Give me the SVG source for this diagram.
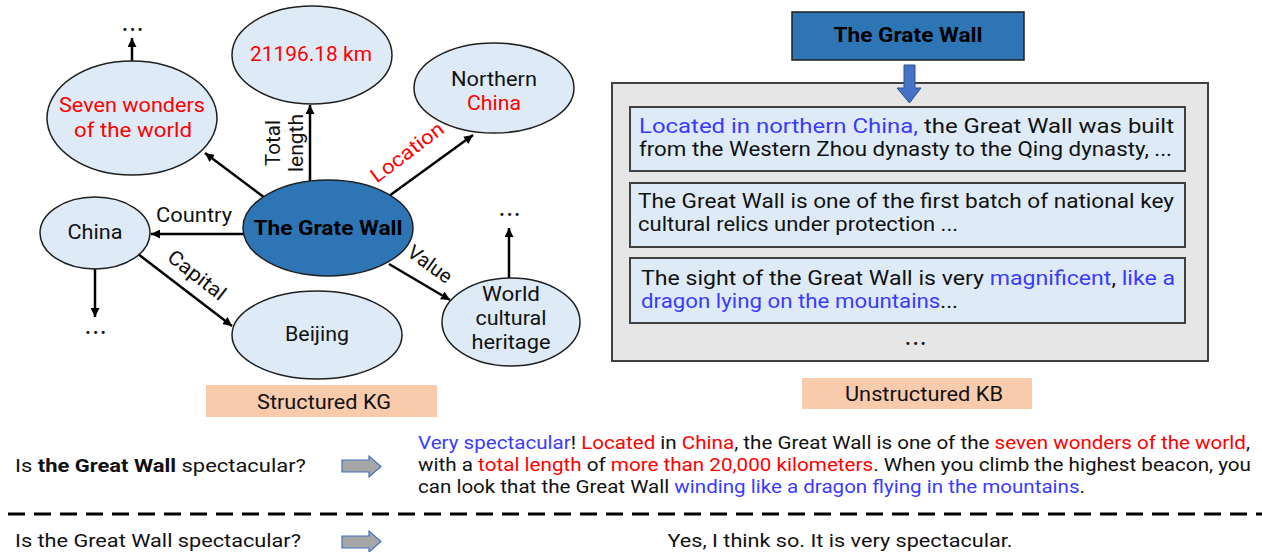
<svg xmlns="http://www.w3.org/2000/svg" width="1262" height="552" viewBox="0 0 1262 552">
<defs>
<marker id="ah" viewBox="0 0 10 10" refX="10" refY="5" markerWidth="9" markerHeight="9" markerUnits="userSpaceOnUse" orient="auto">
<path d="M0,0 L10,5 L0,10 z" fill="#000"/>
</marker>
<style>
text{font-family:Roboto,"Liberation Sans",sans-serif;fill:#111;}
.node{fill:#DEEBF7;stroke:#1f1f1f;stroke-width:1.5;}
.hub{fill:#2E75B6;stroke:#1f1f1f;stroke-width:1.5;}
.lbl{font-size:20px;text-anchor:middle;}
.red{fill:#FF0000;}
.blue{fill:#3B3BFF;}
.edge{stroke:#000;stroke-width:2.5;fill:none;marker-end:url(#ah);}
.dots{font-size:13px;font-weight:bold;text-anchor:middle;letter-spacing:3px;}
.tag{fill:#F8CBAD;}
.tbox{fill:#DEEBF7;stroke:#404040;stroke-width:2;}
.kb{font-size:19.5px;}
.ans{font-size:18px;}
.q{font-size:19px;}
.garrow{fill:#A6A6A6;stroke:#4472C4;stroke-width:1.2;}
</style>
</defs>

<g id="connectors">
<line class="edge" x1="265" y1="198" x2="205" y2="153"/>
<line class="edge" x1="310" y1="181" x2="310" y2="105"/>
<line class="edge" x1="389" y1="196" x2="473" y2="135"/>
<line class="edge" x1="244" y1="234" x2="151" y2="234"/>
<line class="edge" x1="138" y1="254" x2="232" y2="326"/>
<line class="edge" x1="389" y1="264" x2="450" y2="300"/>
<line class="edge" x1="132" y1="61" x2="132" y2="38"/>
<line class="edge" x1="95" y1="269" x2="95" y2="317"/>
<line class="edge" x1="509" y1="278" x2="509" y2="228"/>
<text class="lbl" transform="translate(280,143) rotate(-90)" textLength="46" lengthAdjust="spacingAndGlyphs">Total</text>
<text class="lbl" transform="translate(303,143) rotate(-90)" textLength="58" lengthAdjust="spacingAndGlyphs">length</text>
<text class="lbl red" transform="translate(407,152) rotate(-37)" y="7" font-size="21" textLength="86" lengthAdjust="spacingAndGlyphs">Location</text>
<text class="lbl" x="194" y="222" textLength="76" lengthAdjust="spacingAndGlyphs">Country</text>
<text class="lbl" transform="translate(197,275) rotate(38)" y="7" textLength="68" lengthAdjust="spacingAndGlyphs">Capital</text>
<text class="lbl" transform="translate(430,264) rotate(36)" y="7" textLength="50" lengthAdjust="spacingAndGlyphs">Value</text>
</g>

<g id="n-hub">
<ellipse class="hub" cx="328" cy="228" rx="85" ry="48"/>
<text class="lbl" x="328" y="235" font-weight="bold" font-size="21" style="fill:#000" textLength="149" lengthAdjust="spacingAndGlyphs">The Grate Wall</text>
</g>
<g id="n-seven">
<ellipse class="node" cx="132" cy="118" rx="85" ry="57"/>
<text class="lbl red" x="132" y="112" font-size="21" textLength="146" lengthAdjust="spacingAndGlyphs">Seven wonders</text>
<text class="lbl red" x="133" y="137" font-size="21" textLength="118" lengthAdjust="spacingAndGlyphs">of the world</text>
</g>
<g id="n-length">
<ellipse class="node" cx="312" cy="55" rx="80" ry="49"/>
<text class="lbl red" x="311" y="61" textLength="122" lengthAdjust="spacingAndGlyphs">21196.18 km</text>
</g>
<g id="n-northern">
<ellipse class="node" cx="494" cy="88" rx="80" ry="45"/>
<text class="lbl" x="494" y="86" textLength="86" lengthAdjust="spacingAndGlyphs">Northern</text>
<text class="lbl red" x="494" y="110" textLength="54" lengthAdjust="spacingAndGlyphs">China</text>
</g>
<g id="n-china">
<ellipse class="node" cx="95" cy="233" rx="55" ry="36"/>
<text class="lbl" x="95" y="239" textLength="55" lengthAdjust="spacingAndGlyphs">China</text>
</g>
<g id="n-beijing">
<ellipse class="node" cx="317" cy="335" rx="85" ry="44"/>
<text class="lbl" x="317" y="341" textLength="64" lengthAdjust="spacingAndGlyphs">Beijing</text>
</g>
<g id="n-heritage">
<ellipse class="node" cx="511" cy="322" rx="69" ry="44"/>
<text class="lbl" x="511" y="301" textLength="58" lengthAdjust="spacingAndGlyphs">World</text>
<text class="lbl" x="511" y="325" textLength="71" lengthAdjust="spacingAndGlyphs">cultural</text>
<text class="lbl" x="511" y="349" textLength="79" lengthAdjust="spacingAndGlyphs">heritage</text>
</g>
<g id="n-dots">
<text class="dots" x="134" y="34">•••</text>
<text class="dots" x="97" y="337">•••</text>
<text class="dots" x="511" y="219">•••</text>
</g>
<g id="n-kg-label">
<rect class="tag" x="206" y="385" width="231" height="32"/>
<text class="lbl" x="324" y="409" textLength="134" lengthAdjust="spacingAndGlyphs">Structured KG</text>
</g>

<g id="n-title">
<rect class="hub" x="792" y="12" width="232" height="48"/>
<text class="lbl" x="908" y="42" font-weight="bold" font-size="21" style="fill:#000" textLength="149" lengthAdjust="spacingAndGlyphs">The Grate Wall</text>
</g>
<g id="n-kb">
<rect x="612" y="83" width="596" height="278" fill="#E7E6E6" stroke="#404040" stroke-width="2"/>
<polygon points="904,65 915,65 915,88 921,88 909.5,103 897,88 904,88" fill="#4472C4" stroke="#2F528F" stroke-width="1"/>
<rect class="tbox" x="630" y="107" width="555" height="64"/>
<text class="kb" x="639" y="133" textLength="535" lengthAdjust="spacingAndGlyphs"><tspan class="blue">Located in northern China,</tspan> the Great Wall was built</text>
<text class="kb" x="639" y="156" textLength="533" lengthAdjust="spacingAndGlyphs">from the Western Zhou dynasty to the Qing dynasty, ...</text>
<rect class="tbox" x="630" y="183" width="555" height="64"/>
<text class="kb" x="638" y="208" textLength="536" lengthAdjust="spacingAndGlyphs">The Great Wall is one of the first batch of national key</text>
<text class="kb" x="638" y="231" textLength="320" lengthAdjust="spacingAndGlyphs">cultural relics under protection ...</text>
<rect class="tbox" x="630" y="258" width="555" height="65"/>
<text class="kb" x="641" y="285" textLength="534" lengthAdjust="spacingAndGlyphs">The sight of the Great Wall is very <tspan class="blue">magnificent</tspan>, <tspan class="blue">like a</tspan></text>
<text class="kb" x="641" y="308" textLength="317" lengthAdjust="spacingAndGlyphs"><tspan class="blue">dragon lying on the mountains</tspan>...</text>
<text class="dots" x="917" y="348">•••</text>
</g>
<g id="n-kb-label">
<rect class="tag" x="802" y="378" width="230" height="31"/>
<text class="lbl" x="924" y="401" textLength="158" lengthAdjust="spacingAndGlyphs">Unstructured KB</text>
</g>

<g id="n-qa1">
<text class="q" x="15" y="472" textLength="291" lengthAdjust="spacingAndGlyphs">Is <tspan font-weight="bold">the Great Wall</tspan> spectacular?</text>
<polygon class="garrow" points="342,460 369,460 369,456 381,466.5 369,477 369,472 342,472"/>
<text class="ans" x="418" y="449" textLength="832" lengthAdjust="spacingAndGlyphs"><tspan class="blue">Very spectacular</tspan>! <tspan class="red">Located</tspan> in <tspan class="red">China</tspan>, the Great Wall is one of the <tspan class="red">seven wonders of the world</tspan>,</text>
<text class="ans" x="418" y="471" textLength="833" lengthAdjust="spacingAndGlyphs">with a <tspan class="red">total length</tspan> of <tspan class="red">more than 20,000 kilometers</tspan>. When you climb the highest beacon, you</text>
<text class="ans" x="418" y="493" textLength="667" lengthAdjust="spacingAndGlyphs">can look that the Great Wall <tspan class="blue">winding like a dragon flying in the mountains</tspan>.</text>
</g>
<line x1="8" y1="514" x2="1262" y2="514" stroke="#000" stroke-width="3" stroke-dasharray="17 9"/>
<g id="n-qa2">
<text class="q" x="15" y="547" textLength="286" lengthAdjust="spacingAndGlyphs">Is the Great Wall spectacular?</text>
<polygon class="garrow" points="342,536 369,536 369,531 381,541.5 369,552 369,548 342,548"/>
<text class="q" x="840" y="547" text-anchor="middle" textLength="345" lengthAdjust="spacingAndGlyphs">Yes, I think so. It is very spectacular.</text>
</g>
</svg>
